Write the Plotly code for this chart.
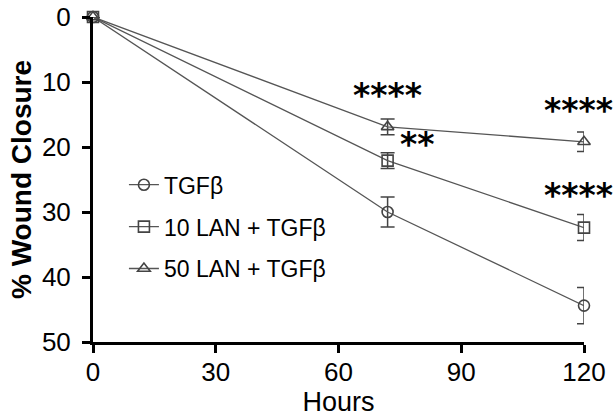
import plotly.graph_objects as go

hours = [0, 72, 120]
series_names = ["TGFβ", "10 LAN + TGFβ", "50 LAN + TGFβ"]
tgf = [0, 30.0, 44.4]
tgf_err = [0, 2.3, 2.8]
lan10 = [0, 22.1, 32.4]
lan10_err = [0, 1.2, 2.0]
lan50 = [0, 16.9, 19.2]
lan50_err = [0, 1.2, 1.5]
x_ticks = [0, 30, 60, 90, 120]
y_ticks = [0, 10, 20, 30, 40, 50]

# significance labels: (text, hour, value, anchor)
sig_labels = [
    ("****", 72, 12.0, "center"),
    ("**", 74.6, 19.6, "left"),
    ("****", 109.8, 14.4, "left"),
    ("****", 109.8, 27.5, "left"),
]

FONT = "Liberation Sans, Arial, sans-serif"
fig = go.Figure()
symbols = ["circle-open", "square-open", "triangle-up-open"]
for i, (name, vals, errs, sym) in enumerate(zip(series_names, [tgf, lan10, lan50],
                                 [tgf_err, lan10_err, lan50_err], symbols)):
    fig.add_trace(go.Scatter(
        x=hours, y=vals, name=name, mode="lines+markers", legendgroup=f"g{i}",
        line=dict(color="#555555", width=1.3),
        marker=dict(symbol=sym, size=11, color="#444444",
                    line=dict(width=1.6, color="#444444")),
        error_y=dict(type="data", array=errs, visible=True,
                     color="#444444", thickness=1.5, width=7),
        cliponaxis=False,
    ))

for txt, xv, yv, anc in sig_labels:
    fig.add_annotation(x=xv, y=yv, xref="x", yref="y", text=f"<b>{txt}</b>",
                       showarrow=False, xanchor=anc, yanchor="middle",
                       font=dict(family="DejaVu Sans", size=33, color="black"))

fig.update_layout(
    width=613, height=417,
    margin=dict(l=93, r=29, t=17, b=75, autoexpand=False),
    plot_bgcolor="white", paper_bgcolor="white",
    font=dict(family=FONT, color="black"),
    showlegend=True,
    legend=dict(x=0.063, y=0.55, xanchor="left", yanchor="top",
                font=dict(size=23, family=FONT, color="black"),
                bgcolor="rgba(0,0,0,0)", tracegroupgap=9, itemwidth=30,
                traceorder="grouped"),
    xaxis=dict(range=[0, 120], tickvals=x_ticks, ticks="outside",
               ticklen=8, tickwidth=3, tickcolor="black",
               showline=True, linewidth=3, linecolor="black",
               showgrid=False, zeroline=False, automargin=False,
               ticklabelstandoff=-3,
               tickfont=dict(size=26, family=FONT),
               title=dict(text="Hours", font=dict(size=27, family=FONT), standoff=5)),
    yaxis=dict(range=[50, 0], tickvals=y_ticks, ticks="outside",
               ticklen=8, tickwidth=3, tickcolor="black",
               showline=True, linewidth=3, linecolor="black",
               showgrid=False, zeroline=False, automargin=False,
               ticklabelstandoff=6,
               tickfont=dict(size=26, family=FONT),
               title=dict(text="<b>% Wound Closure</b>", font=dict(size=28, family=FONT), standoff=3)),
)

fig.write_html("out.html")
